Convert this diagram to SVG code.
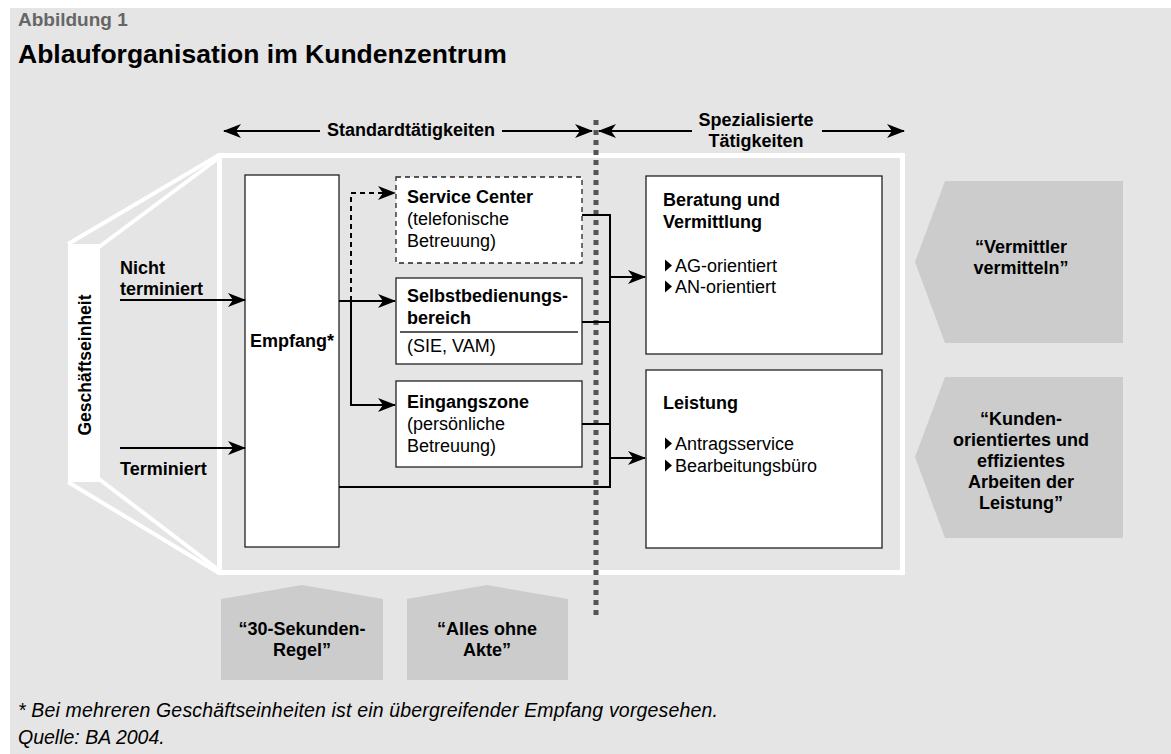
<svg xmlns="http://www.w3.org/2000/svg" width="1171" height="754" viewBox="0 0 1171 754">
<style>
text{font-family:"Liberation Sans",Arial,Helvetica,sans-serif;fill:#000}
.b{font-weight:bold;font-size:18px}
.r{font-size:18px}
.c{text-anchor:middle}
.box{fill:#fff;stroke:#222;stroke-width:1.3}
.conn{fill:none;stroke:#000;stroke-width:2}
.wl{fill:none;stroke:#fff;stroke-width:4}
.pent{fill:#cccccc}
.foot{font-style:italic;font-size:19.5px}
</style>
<defs>
<marker id="ah" viewBox="0 0 18 14" markerWidth="18" markerHeight="14" refX="17" refY="7" orient="auto-start-reverse" markerUnits="userSpaceOnUse">
<path d="M0,0 L18,7 L0,14 L5,7 Z" fill="#000"/>
</marker>
</defs>
<rect x="0" y="0" width="1171" height="754" fill="#fff"/>
<rect x="10" y="8" width="1161" height="746" fill="#e5e5e5"/>
<g id="title">
<text x="18" y="26" style="font-weight:bold;font-size:19px;fill:#666">Abbildung 1</text>
<text x="18" y="63" style="font-weight:bold;font-size:26.5px">Ablauforganisation im Kundenzentrum</text>
</g>
<g id="frame">
<rect x="219.5" y="155.5" width="683" height="417" fill="none" stroke="#fff" stroke-width="5"/>
<line class="wl" x1="68" y1="244" x2="219" y2="155"/>
<line class="wl" x1="99" y1="247" x2="220" y2="157"/>
<line class="wl" x1="68" y1="482" x2="219" y2="573"/>
<line class="wl" x1="99" y1="479" x2="220" y2="571"/>
</g>
<g id="geschaeftseinheit">
<rect x="68" y="244" width="32" height="238" fill="#fff"/>
<text class="b c" transform="translate(91,365) rotate(-90)" style="font-size:17.5px">Geschäftseinheit</text>
</g>
<g id="header-standard">
<text class="b c" x="411" y="136">Standardtätigkeiten</text>
</g>
<g id="header-special">
<text class="b c" x="756" y="126">Spezialisierte</text>
<text class="b c" x="756" y="147">Tätigkeiten</text>
</g>
<g id="divider">
<line x1="596" y1="120" x2="596" y2="618" stroke="#555" stroke-width="5" stroke-dasharray="5 5"/>
</g>
<g id="labels-left">
<text class="b" x="120" y="274">Nicht</text>
<text class="b" x="120" y="295">terminiert</text>
<text class="b" x="120" y="475">Terminiert</text>
</g>
<g id="empfang">
<rect class="box" x="245" y="175" width="94" height="372"/>
<text class="b c" x="292" y="347">Empfang*</text>
</g>
<g id="service-center">
<rect class="box" x="396" y="177" width="186" height="86" stroke-dasharray="5 4"/>
<text class="b" x="407" y="203">Service Center</text>
<text class="r" x="407" y="225">(telefonische</text>
<text class="r" x="407" y="247">Betreuung)</text>
</g>
<g id="selbstbedienung">
<rect class="box" x="396" y="278" width="186" height="86"/>
<text class="b" x="407" y="302">Selbstbedienungs-</text>
<text class="b" x="407" y="324">bereich</text>
<line x1="400" y1="332" x2="578" y2="332" stroke="#222" stroke-width="1.3"/>
<text class="r" x="407" y="352">(SIE, VAM)</text>
</g>
<g id="eingangszone">
<rect class="box" x="396" y="381" width="186" height="86"/>
<text class="b" x="407" y="408">Eingangszone</text>
<text class="r" x="407" y="430">(persönliche</text>
<text class="r" x="407" y="452">Betreuung)</text>
</g>
<g id="beratung">
<rect class="box" x="646" y="176" width="236" height="178"/>
<text class="b" x="663" y="206">Beratung und</text>
<text class="b" x="663" y="228">Vermittlung</text>
<path d="M665,259.5 L672,265.5 L665,271.5 Z" fill="#000"/>
<text class="r" x="675" y="272">AG-orientiert</text>
<path d="M665,280.5 L672,286.5 L665,292.5 Z" fill="#000"/>
<text class="r" x="675" y="293">AN-orientiert</text>
</g>
<g id="leistung">
<rect class="box" x="646" y="370" width="236" height="178"/>
<text class="b" x="663" y="409">Leistung</text>
<path d="M665,437.5 L672,443.5 L665,449.5 Z" fill="#000"/>
<text class="r" x="675" y="450">Antragsservice</text>
<path d="M665,459.5 L672,465.5 L665,471.5 Z" fill="#000"/>
<text class="r" x="675" y="472">Bearbeitungsbüro</text>
</g>
<g id="vermittler">
<polygon class="pent" points="945,181 1123,181 1123,343 945,343 915,262"/>
<text class="b c" x="1021" y="253">“Vermittler</text>
<text class="b c" x="1021" y="274">vermitteln”</text>
</g>
<g id="kunden">
<polygon class="pent" points="945,377 1123,377 1123,538 945,538 915,457"/>
<text class="b c" x="1021" y="425">“Kunden-</text>
<text class="b c" x="1021" y="446">orientiertes und</text>
<text class="b c" x="1021" y="467">effizientes</text>
<text class="b c" x="1021" y="488">Arbeiten der</text>
<text class="b c" x="1021" y="509">Leistung”</text>
</g>
<g id="regel">
<polygon class="pent" points="221,599 302,585 383,599 383,680 221,680"/>
<text class="b c" x="302" y="635">“30-Sekunden-</text>
<text class="b c" x="302" y="656">Regel”</text>
</g>
<g id="akte">
<polygon class="pent" points="407,599 487,585 568,599 568,680 407,680"/>
<text class="b c" x="487" y="635">“Alles ohne</text>
<text class="b c" x="487" y="656">Akte”</text>
</g>
<g id="connectors">
<line class="conn" x1="320" y1="131" x2="224" y2="131" marker-end="url(#ah)"/>
<line class="conn" x1="502" y1="131" x2="592" y2="131" marker-end="url(#ah)"/>
<line class="conn" x1="692" y1="131" x2="599" y2="131" marker-end="url(#ah)"/>
<line class="conn" x1="822" y1="131" x2="904" y2="131" marker-end="url(#ah)"/>
<line class="conn" x1="120" y1="300" x2="245" y2="300" marker-end="url(#ah)"/>
<line class="conn" x1="120" y1="448" x2="245" y2="448" marker-end="url(#ah)"/>
<path class="conn" d="M339,301 H395" marker-end="url(#ah)"/>
<path class="conn" d="M351,301 V405 H395" marker-end="url(#ah)"/>
<path class="conn" d="M351,301 V193 H395" stroke-dasharray="5 4" marker-end="url(#ah)"/>
<path class="conn" d="M582,215 H610 V487 H339"/>
<path class="conn" d="M582,322 H610"/>
<path class="conn" d="M582,424 H610"/>
<path class="conn" d="M610,277 H645" marker-end="url(#ah)"/>
<path class="conn" d="M610,458 H645" marker-end="url(#ah)"/>
</g>
<g id="footer">
<text class="foot" x="18" y="717" textLength="700" lengthAdjust="spacing">* Bei mehreren Geschäftseinheiten ist ein übergreifender Empfang vorgesehen.</text>
<text class="foot" x="18" y="744">Quelle: BA 2004.</text>
</g>
</svg>
